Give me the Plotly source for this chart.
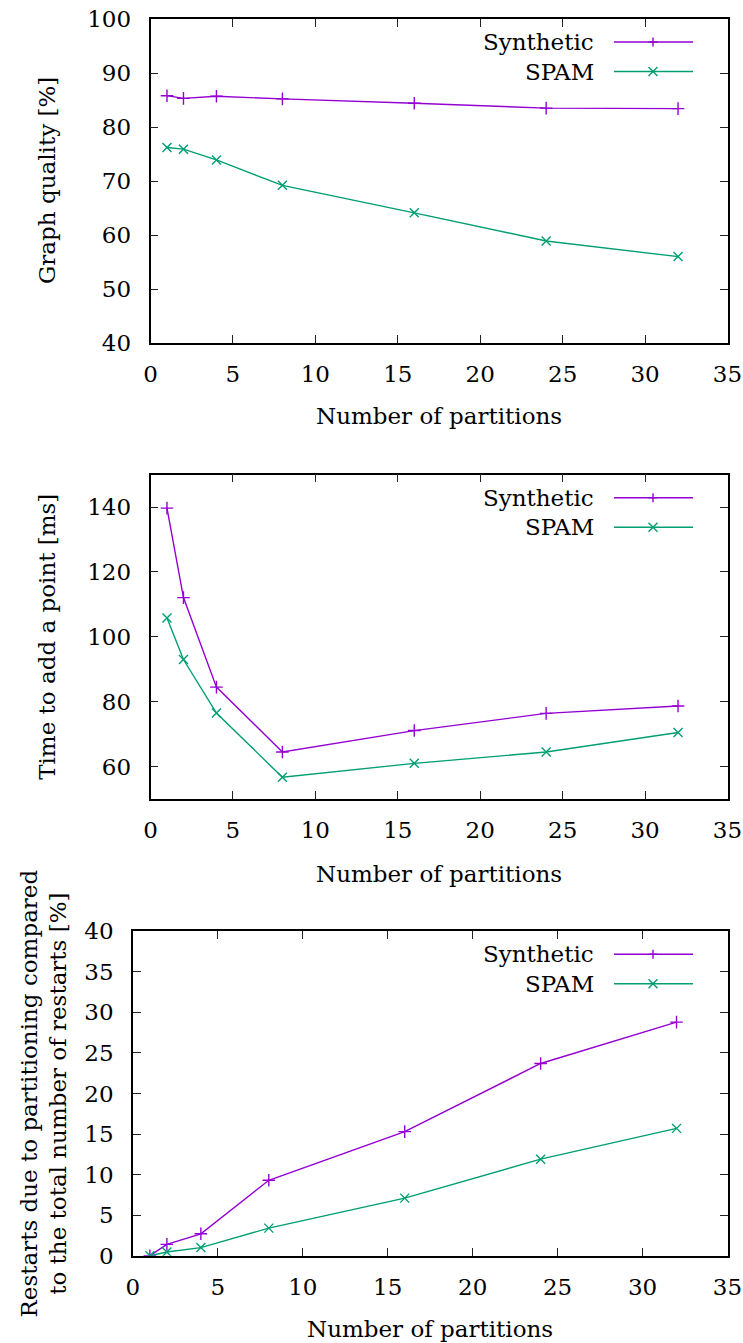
import plotly.graph_objects as go

# ---- data -------------------------------------------------------------
partitions = [1, 2, 4, 8, 16, 24, 32]

quality_synthetic = [85.8, 85.3, 85.7, 85.2, 84.4, 83.5, 83.4]
quality_spam = [76.2, 75.9, 73.9, 69.2, 64.1, 58.9, 56.0]

time_synthetic = [139.7, 112.1, 84.5, 64.5, 71.1, 76.4, 78.7]
time_spam = [105.8, 93.0, 76.5, 56.7, 61.0, 64.5, 70.5]

restarts_synthetic = [0.0, 1.4, 2.7, 9.3, 15.3, 23.7, 28.8]
restarts_spam = [0.0, 0.45, 1.0, 3.4, 7.1, 11.9, 15.7]

series_names = ["Synthetic", "SPAM"]
series_colors = ["#9400D3", "#009E73"]
series_symbols = ["cross-thin-open", "x-thin-open"]

x_title = "Number of partitions"
x_ticks = [0, 5, 10, 15, 20, 25, 30, 35]

# ---- layout helpers (pixel -> paper) ---------------------------------
W, H = 743, 1343
FONT = "DejaVu Serif"
FS = 23
RIGHT = 727.5


def px(x):
    return x / W


def py(y):
    return 1 - y / H


panels = [
    dict(values=(quality_synthetic, quality_spam), yrange=[40, 100], dtick=10,
         ytitle="Graph quality [%]", box=(150.5, RIGHT, 19, 343),
         xtitle_y=416, ytitle_x=47),
    dict(values=(time_synthetic, time_spam), yrange=[50, 150], dtick=20, tick0=60,
         ytitle="Time to add a point [ms]", box=(150.5, RIGHT, 474.7, 799),
         xtitle_y=873.5, ytitle_x=47),
    dict(values=(restarts_synthetic, restarts_spam), yrange=[0, 40], dtick=5,
         ytitle="Restarts due to partitioning compared<br>to the total number of restarts [%]",
         box=(132.9, RIGHT, 931.3, 1255.7), xtitle_y=1328.5, ytitle_x=43),
]

fig = go.Figure()
shapes = []
annotations = []

axis_common = dict(
    showline=True, linecolor="black", linewidth=1.5, mirror="ticks",
    ticks="inside", ticklen=8, tickwidth=1.2, tickcolor="#222",
    showgrid=False, zeroline=False, automargin=False,
    tickfont=dict(family=FONT, size=FS, color="black"),
)

for i, p in enumerate(panels):
    n = "" if i == 0 else str(i + 1)
    left, right, top, bottom = p["box"]

    for vals, name, color, sym in zip(p["values"], series_names, series_colors, series_symbols):
        fig.add_trace(go.Scatter(
            x=partitions, y=vals, name=name, mode="lines+markers",
            line=dict(color=color, width=1.4),
            marker=dict(symbol=sym, size=9, line=dict(color=color, width=1.4)),
            xaxis="x" + n, yaxis="y" + n, showlegend=False,
        ))

    fig.update_layout(**{
        "xaxis" + n: dict(axis_common, domain=[px(left), px(right)], range=[0, 35],
                          tickmode="array", tickvals=x_ticks, anchor="y" + n,
                          ticklabelstandoff=10, ticklabeloverflow="allow"),
        "yaxis" + n: dict(axis_common, domain=[py(bottom), py(top)], range=p["yrange"],
                          tick0=p.get("tick0", p["yrange"][0]), dtick=p["dtick"],
                          anchor="x" + n, ticklabelstandoff=13,
                          ticklabeloverflow="allow"),
    })

    # axis titles
    annotations.append(dict(
        text=x_title, x=px((left + right) / 2), y=py(p["xtitle_y"]),
        xref="paper", yref="paper", xanchor="center", yanchor="middle",
        showarrow=False, font=dict(family=FONT, size=FS, color="black"),
    ))
    annotations.append(dict(
        text=p["ytitle"], x=px(p["ytitle_x"]), y=py((top + bottom) / 2),
        xref="paper", yref="paper", xanchor="center", yanchor="middle",
        textangle=-90, showarrow=False,
        font=dict(family=FONT, size=FS, color="black"),
    ))

    # key in the upper right corner: label, sample line and point symbol
    for k, (name, color) in enumerate(zip(series_names, series_colors)):
        ry = top + 23 + 29.5 * k
        annotations.append(dict(
            text=name, x=px(596), y=py(ry), xref="paper", yref="paper",
            xanchor="right", yanchor="middle", showarrow=False,
            font=dict(family=FONT, size=FS, color="black"),
        ))
        shapes.append(dict(type="line", xref="paper", yref="paper",
                           x0=px(614), x1=px(693), y0=py(ry), y1=py(ry),
                           line=dict(color=color, width=1.4)))
        cx, r = 653, 4.5
        if k == 0:
            segs = [(cx - r, ry, cx + r, ry), (cx, ry - r, cx, ry + r)]
        else:
            segs = [(cx - r, ry - r, cx + r, ry + r), (cx - r, ry + r, cx + r, ry - r)]
        for x0, y0, x1, y1 in segs:
            shapes.append(dict(type="line", xref="paper", yref="paper",
                               x0=px(x0), x1=px(x1), y0=py(y0), y1=py(y1),
                               line=dict(color=color, width=1.4)))

fig.update_layout(
    width=W, height=H, margin=dict(l=0, r=0, t=0, b=0),
    paper_bgcolor="white", plot_bgcolor="white",
    shapes=shapes, annotations=annotations, showlegend=False,
    font=dict(family=FONT, size=FS, color="black"),
)

fig.write_html("out.html")
